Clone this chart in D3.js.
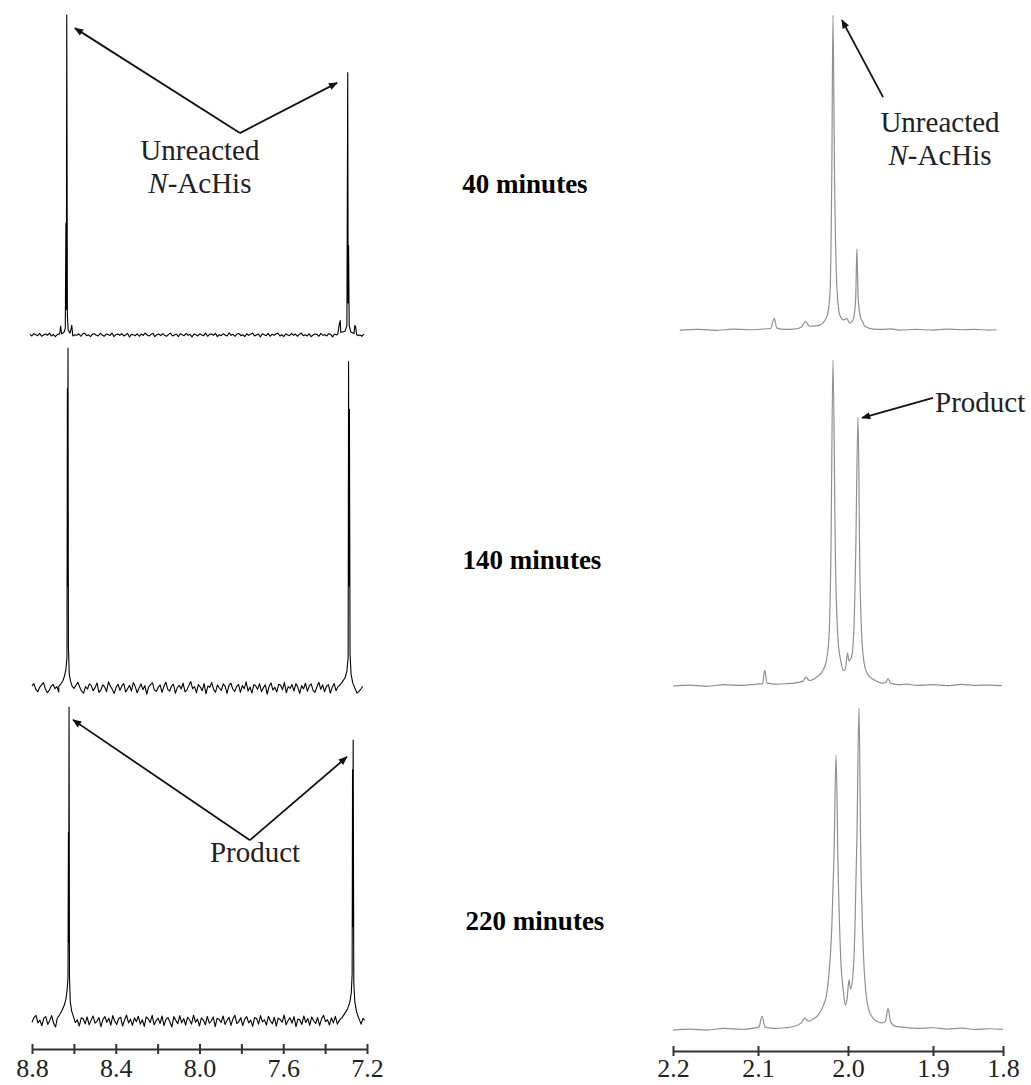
<!DOCTYPE html>
<html>
<head>
<meta charset="utf-8">
<style>
    body { margin: 0; background: #fff; }
    svg { display: block; }
    .trace { fill: none; stroke-linejoin: round; }
    .left .trace { stroke: #000; stroke-width: 1.1; }
    .right .trace { stroke: #909090; stroke-width: 1.2; }
    .axis path, .axis line { stroke: #333; stroke-width: 2; }
    .axis text { font: 26px "Liberation Serif", "Times New Roman", serif; fill: #222; }
    .time { font: bold 27px "Liberation Serif", "Times New Roman", serif; fill: #000; }
    .note { font: 29px "Liberation Serif", "Times New Roman", serif; fill: #222; }
    .arrow { stroke: #111; stroke-width: 1.8; fill: none; }
</style>
</head>
<body>
<script src="https://d3js.org/d3.v7.min.js"></script>
<script>
// ---- data ----
var times = ["40 minutes", "140 minutes", "220 minutes"];

var leftTicks = [8.8, 8.6, 8.4, 8.2, 8.0, 7.8, 7.6, 7.4, 7.2];
var leftLabels = [8.8, 8.4, 8.0, 7.6, 7.2];
var rightTicks = [2.2, 2.1, 2.0, 1.9, 1.8];

// ppm span covered by each left trace
var leftSpan = [[8.81, 7.215], [8.80, 7.22], [8.80, 7.21]];

// baseline noise, read as relative intensity (peak = 100), equally spaced over the span
var noise40 = [0.2,-0.3,0.4,0.1,-0.2,0.5,-0.4,0.0,0.3,-0.1,0.6,-0.3,0.2,-0.5,0.1,0.4,-0.2,0.3,-0.6,0.2,0.0,0.5,-0.3,0.1,-0.1,0.4,-0.4,0.3,0.6,-0.2,0.1,-0.5,0.2,0.4,-0.1,-0.3,0.5,0.0,-0.4,0.3,0.2,-0.2,0.6,-0.5,0.1,0.3,-0.1,0.4,-0.3,0.0,0.5,-0.6,0.2,0.1,-0.2,0.4,-0.4,0.3,-0.1,0.6,0.0,-0.3,0.2,0.5,-0.5,0.1,0.3,-0.2,0.4,-0.1,-0.4,0.2,0.6,-0.3,0.0,0.3,-0.5,0.4,0.1,-0.2,0.5,-0.1,0.2,-0.6,0.3,0.1,-0.3,0.4,0.0,-0.2,0.6,-0.4,0.2,0.3,-0.1,0.5,-0.5,0.1,-0.2,0.4,0.0,-0.3,0.7,-0.1,0.2,-0.4,0.3,0.5,-0.2,0.1,-0.5,0.4,-0.1,0.2,0.6,-0.3,0.0,0.3,-0.6,0.4,0.1,-0.2,0.5,-0.4,0.2,-0.1,0.3,0.6,-0.3,0.1,-0.5,0.4,0.0,-0.2,0.5,-0.1,0.3,-0.4,0.2,0.6,-0.2,0.1,-0.3,0.4,-0.5,0.0,0.3,0.2,-0.4,0.5,-0.1,0.1,-0.3,0.4,0.2,-0.6,0.3,0.0,-0.2,0.5,-0.4,0.1,0.3,-0.1,0.4,-0.3,0.2,0.6,-0.2,0.0,-0.4,0.3];
var noise140 = [0.6,1.3,-0.4,-1.1,0.2,0.9,1.6,-0.3,-1.4,-0.7,0.5,1.1,-0.2,0.4,-1.2,-1.7,0.3,1.0,0.6,-0.5,1.4,-0.9,-0.1,0.8,1.7,0.2,-1.0,-1.5,0.4,-0.3,1.2,0.7,-0.8,0.1,1.5,-1.3,-0.6,0.9,0.3,-1.1,1.8,0.5,-0.4,-1.6,0.2,1.1,-0.7,0.6,1.3,-1.2,-0.2,0.8,-0.9,1.6,0.4,-1.4,0.0,1.2,-0.5,0.7,-1.8,0.3,1.0,1.5,-0.6,-1.0,0.2,0.9,-1.3,0.5,1.7,-0.4,-0.9,0.6,1.1,-1.5,0.1,0.8,-0.3,1.4,-1.1,-0.6,0.7,1.9,-0.2,0.4,-1.4,1.0,0.3,-0.8,1.3,-1.7,0.6,0.2,1.6,-0.5,-1.2,0.9,0.0,-0.7,1.2,0.5,-1.6,0.8,1.4,-0.3,-1.0,0.4,1.1,-1.3,0.7,-0.2,1.8,-0.9,0.3,-1.5,1.0,0.6,-0.4,1.3,-1.1,0.1,0.9,-1.8,0.5,1.5,-0.6,0.2,-1.2,1.1,0.8,-0.5,1.6,-1.4,0.4,-0.1,1.0,-0.9,1.3,0.2,-1.6,0.7,-0.3,1.4,-1.0,0.6,1.2,-0.7,-1.3,0.3,1.7,-0.4,0.9,-1.1,0.5,1.0,-1.5,0.2,1.3,-0.8,0.4,-1.2,1.6,-0.2,0.7,-0.6,1.1,-1.4,0.3,0.8,-0.9,1.2,-0.3,0.5];
var noise220 = [-0.4,1.1,1.8,-0.6,0.3,-1.5,0.9,1.4,-1.1,0.2,1.7,-0.8,-1.9,0.6,1.2,-0.3,0.8,-1.4,1.5,0.1,-1.0,1.9,-0.5,0.4,-1.6,1.0,0.7,-0.9,1.3,-1.2,0.2,1.6,-0.7,-0.1,1.1,-1.8,0.5,1.4,-0.4,0.9,-1.3,1.7,0.0,-1.1,0.8,1.2,-1.6,0.3,1.9,-0.6,0.6,-1.4,1.0,-0.2,1.5,-1.0,0.4,-1.7,1.3,0.7,-0.5,1.8,-1.2,0.1,0.9,-0.8,1.6,-1.5,0.5,1.1,-0.3,-1.9,1.4,0.2,-0.9,1.7,-0.6,0.8,-1.3,1.2,0.4,-1.0,1.9,-0.4,0.6,-1.6,1.0,0.3,-1.2,1.5,-0.7,0.0,1.3,-1.8,0.9,0.5,-0.5,1.6,-1.1,0.2,1.2,-1.4,0.7,1.8,-0.8,-0.2,1.0,-1.5,0.6,1.4,-0.6,0.3,-1.7,1.1,0.8,-1.0,1.7,-0.3,0.4,-1.3,1.5,0.1,-0.9,1.2,-1.6,0.9,0.5,-0.4,1.9,-1.2,0.2,1.0,-0.7,1.4,-1.8,0.6,0.3,-1.1,1.6,-0.5,0.8,-1.4,1.3,0.0,-0.8,1.1,-1.5,0.7,1.8,-0.2,0.4,-1.3,1.0,-0.6,1.5,-1.0,0.2,0.9,-1.7,1.2,0.5,-0.3,1.4,-1.2,0.6,-0.4,1.1,-0.9,0.8,0.3];

// aromatic peaks [ppm, intensity], high ppm first
var peaks40 = [
    [[8.668,0.3],[8.663,2.8],[8.659,0.4],[8.648,0.8],[8.641,2],[8.638,35],[8.636,8],[8.634,100],[8.631,6],[8.627,1.5],[8.618,0.6],[8.610,3],[8.606,0.3]],
    [[7.340,0.2],[7.332,3.5],[7.328,4.5],[7.325,0.8],[7.305,1.2],[7.296,3],[7.292,82],[7.290,10],[7.288,28],[7.285,3],[7.278,1],[7.262,0.5],[7.258,3],[7.254,2.5],[7.250,0.2]]
];
var peaks140 = [
    [[8.672,0.5],[8.662,1.2],[8.652,2.2],[8.645,3.5],[8.638,5.5],[8.633,9],[8.631,88],[8.630,30],[8.628,100],[8.626,12],[8.622,4],[8.616,2],[8.608,0.5]],
    [[7.330,0.8],[7.318,1.8],[7.305,3],[7.296,5],[7.290,9],[7.288,96],[7.286,30],[7.284,82],[7.281,10],[7.276,4],[7.268,1.5],[7.258,0],[7.248,-1.5],[7.238,-1]]
];
var peaks220 = [
    [[8.680,0.8],[8.668,2],[8.656,3.5],[8.646,5],[8.638,7],[8.632,10],[8.628,14],[8.626,60],[8.625,25],[8.623,100],[8.621,14],[8.617,6],[8.610,3],[8.600,1]],
    [[7.320,1],[7.305,2.5],[7.292,4],[7.282,6],[7.275,9],[7.271,15],[7.269,80],[7.268,30],[7.266,89.5],[7.263,12],[7.258,6],[7.250,3],[7.240,1],[7.228,-1]]
];

// acetyl region [ppm, intensity]
var right40 = [[2.192,0.3],[2.17,0.5],[2.15,0.2],[2.13,0.6],[2.11,0.4],[2.095,0.6],[2.086,0.8],[2.082,4],[2.079,0.9],[2.07,0.5],[2.06,0.6],[2.052,1.2],[2.047,3],[2.043,1.5],[2.035,1.6],[2.028,2.5],[2.023,5],[2.020,12],[2.018,50],[2.0167,100],[2.015,50],[2.012,12],[2.009,5],[2.005,3.5],[2.0015,4],[1.998,2.5],[1.994,3.5],[1.991,10],[1.9895,26],[1.988,10],[1.985,4],[1.9835,3.2],[1.98,1.5],[1.97,0.6],[1.96,0.5],[1.95,0.7],[1.94,0.3],[1.92,0.5],[1.90,0.3],[1.88,0.6],[1.86,0.4],[1.84,0.5],[1.82,0.3],[1.809,0.4]];
var right140 = [[2.2,0.3],[2.18,0.6],[2.16,0.2],[2.14,0.7],[2.12,0.5],[2.10,0.9],[2.095,1],[2.0925,5.2],[2.090,1.2],[2.08,0.9],[2.07,1],[2.06,1.2],[2.05,1.8],[2.0467,3],[2.043,2],[2.035,3],[2.028,5],[2.024,8],[2.021,16],[2.019,40],[2.0167,100],[2.014,40],[2.011,14],[2.008,8],[2.005,5],[2.003,5.5],[2.0005,10.4],[1.999,8],[1.996,9],[1.993,18],[1.991,40],[1.9882,82.6],[1.986,35],[1.983,12],[1.979,5],[1.974,3],[1.968,2],[1.96,1.2],[1.955,1.5],[1.9529,2.6],[1.950,1.2],[1.94,0.7],[1.93,0.9],[1.92,0.5],[1.90,0.7],[1.88,0.4],[1.86,0.8],[1.84,0.5],[1.82,0.6],[1.8014,0.4]];
var right220 = [[2.2,0.3],[2.18,0.6],[2.16,0.3],[2.14,0.8],[2.12,0.5],[2.105,0.9],[2.099,1.2],[2.0956,4.5],[2.092,1.2],[2.08,0.8],[2.07,1],[2.06,1.4],[2.052,2.5],[2.048,4],[2.044,3],[2.038,3.8],[2.033,5],[2.028,7.5],[2.024,11],[2.021,18],[2.018,32],[2.0155,55],[2.0133,85.4],[2.011,50],[2.008,22],[2.005,12],[2.003,8],[2.001,10],[1.9988,15.8],[1.997,13],[1.994,18],[1.992,30],[1.9895,60],[1.9871,100],[1.985,55],[1.982,25],[1.979,12],[1.976,7],[1.972,4.5],[1.966,3],[1.96,2.5],[1.956,3],[1.9529,7],[1.950,3],[1.945,1.5],[1.935,1.2],[1.92,0.8],[1.90,1],[1.88,0.6],[1.86,0.9],[1.84,0.5],[1.82,0.7],[1.80,0.5]];

// annotations in data units: [ppm, intensity]
var leftNotes = [
    { panel: 0, lines: ["Unreacted", "<N>-AcHis"], text: [7.998, 54.7], gap: 10.3,
      from: [7.807, 63.1], to: [[8.595, 95.9], [7.343, 78.8]] },
    { panel: 2, lines: ["Product"], text: [7.735, 50.6], gap: 0,
      from: [7.759, 57.6], to: [[8.604, 95.9], [7.296, 84.1]] }
];
var rightNotes = [
    { panel: 0, lines: ["Unreacted", "<N>-AcHis"], text: [1.89, 63.0], gap: 10.4, anchor: "middle",
      from: [1.9588, 74.0], to: [[2.0067, 98.4]] },
    { panel: 1, lines: ["Product"], text: [1.8971, 84.1], gap: 0, anchor: "start",
      from: [1.9, 88.4], to: [[1.9835, 82.3]] }
];

// ---- layout ----
var W = 1031, H = 1085;
var leftBase = [335, 688, 1021], leftTop = [15, 348, 707];
var rightBase = [331, 687, 1031], rightTop = [15, 360, 708];
var timeX = [525, 532, 535], timeY = [193, 569, 930];

var svg = d3.select("body").append("svg")
    .attr("width", W)
    .attr("height", H);

svg.append("defs").append("marker")
    .attr("id", "head")
    .attr("viewBox", "0 0 10 10")
    .attr("refX", 9).attr("refY", 5)
    .attr("markerWidth", 11).attr("markerHeight", 9)
    .attr("markerUnits", "userSpaceOnUse")
    .attr("orient", "auto")
    .append("path")
    .attr("d", "M0,1 L10,5 L0,9 Z")
    .attr("fill", "#111");

var xL = d3.scaleLinear().domain([8.8, 7.2]).range([32, 367]);
var xR = d3.scaleLinear().domain(rightTicks).range([673, 758, 848, 933, 1003]);

var yL = leftBase.map(function (b, i) {
    return d3.scaleLinear().domain([0, 100]).range([b, leftTop[i]]);
});
var yR = rightBase.map(function (b, i) {
    return d3.scaleLinear().domain([0, 100]).range([b, rightTop[i]]);
});

// merge noisy baseline with the hand-read peak points
function buildTrace(span, noise, peaks) {
    var n = noise.length, pts = [];
    noise.forEach(function (v, i) {
        var ppm = span[0] + (span[1] - span[0]) * i / (n - 1);
        var inside = peaks.some(function (p) {
            return ppm <= p[0][0] && ppm >= p[p.length - 1][0];
        });
        if (!inside) pts.push([ppm, v]);
    });
    peaks.forEach(function (p) { pts = pts.concat(p); });
    pts.sort(function (a, b) { return b[0] - a[0]; });
    return pts;
}

var leftData = [
    buildTrace(leftSpan[0], noise40, peaks40),
    buildTrace(leftSpan[1], noise140, peaks140),
    buildTrace(leftSpan[2], noise220, peaks220)
];
var rightData = [right40, right140, right220];

var gl = svg.append("g").attr("class", "left");
var gr = svg.append("g").attr("class", "right");

leftData.forEach(function (d, i) {
    var line = d3.line()
        .x(function (p) { return xL(p[0]); })
        .y(function (p) { return yL[i](p[1]); });
    gl.append("path").attr("class", "trace").attr("d", line(d));
});

rightData.forEach(function (d, i) {
    var line = d3.line()
        .x(function (p) { return xR(p[0]); })
        .y(function (p) { return yR[i](p[1]); })
        .curve(d3.curveMonotoneX);
    gr.append("path").attr("class", "trace").attr("d", line(d));
});

// time labels
svg.selectAll(".time")
    .data(times)
    .enter().append("text")
    .attr("class", "time")
    .attr("x", function (d, i) { return timeX[i]; })
    .attr("y", function (d, i) { return timeY[i]; })
    .attr("text-anchor", "middle")
    .text(function (d) { return d; });

// annotation text, "<N>" marks the italic N
function writeLine(text, s) {
    var m = s.match(/^<(.+?)>(.*)$/);
    if (m) {
        text.append("tspan").style("font-style", "italic").text(m[1]);
        text.append("tspan").text(m[2]);
    } else {
        text.text(s);
    }
}

function drawNotes(notes, x, ys, defAnchor) {
    notes.forEach(function (n) {
        var y = ys[n.panel];
        n.to.forEach(function (t) {
            svg.append("line")
                .attr("class", "arrow")
                .attr("x1", x(n.from[0])).attr("y1", y(n.from[1]))
                .attr("x2", x(t[0])).attr("y2", y(t[1]))
                .attr("marker-end", "url(#head)");
        });
        n.lines.forEach(function (s, k) {
            var t = svg.append("text")
                .attr("class", "note")
                .attr("x", x(n.text[0]))
                .attr("y", y(n.text[1] - k * n.gap))
                .attr("text-anchor", n.anchor || defAnchor);
            writeLine(t, s);
        });
    });
}
drawNotes(leftNotes, xL, yL, "middle");
drawNotes(rightNotes, xR, yR, "middle");

// axes
var axL = svg.append("g")
    .attr("class", "axis")
    .attr("transform", "translate(0,1049)")
    .call(d3.axisBottom(xL)
        .tickValues(leftTicks)
        .tickSize(0)
        .tickPadding(10)
        .tickFormat(function (d) {
            return leftLabels.indexOf(d) >= 0 ? d3.format(".1f")(d) : "";
        }));
axL.selectAll(".tick line").attr("y1", -5).attr("y2", 5);

var axR = svg.append("g")
    .attr("class", "axis")
    .attr("transform", "translate(0,1051)")
    .call(d3.axisBottom(xR)
        .tickValues(rightTicks)
        .tickSize(0)
        .tickPadding(8)
        .tickFormat(d3.format(".1f")));
axR.selectAll(".tick line").attr("y1", -5).attr("y2", 5);
svg.selectAll(".axis .domain").attr("stroke-width", 2);
</script>
</body>
</html>
